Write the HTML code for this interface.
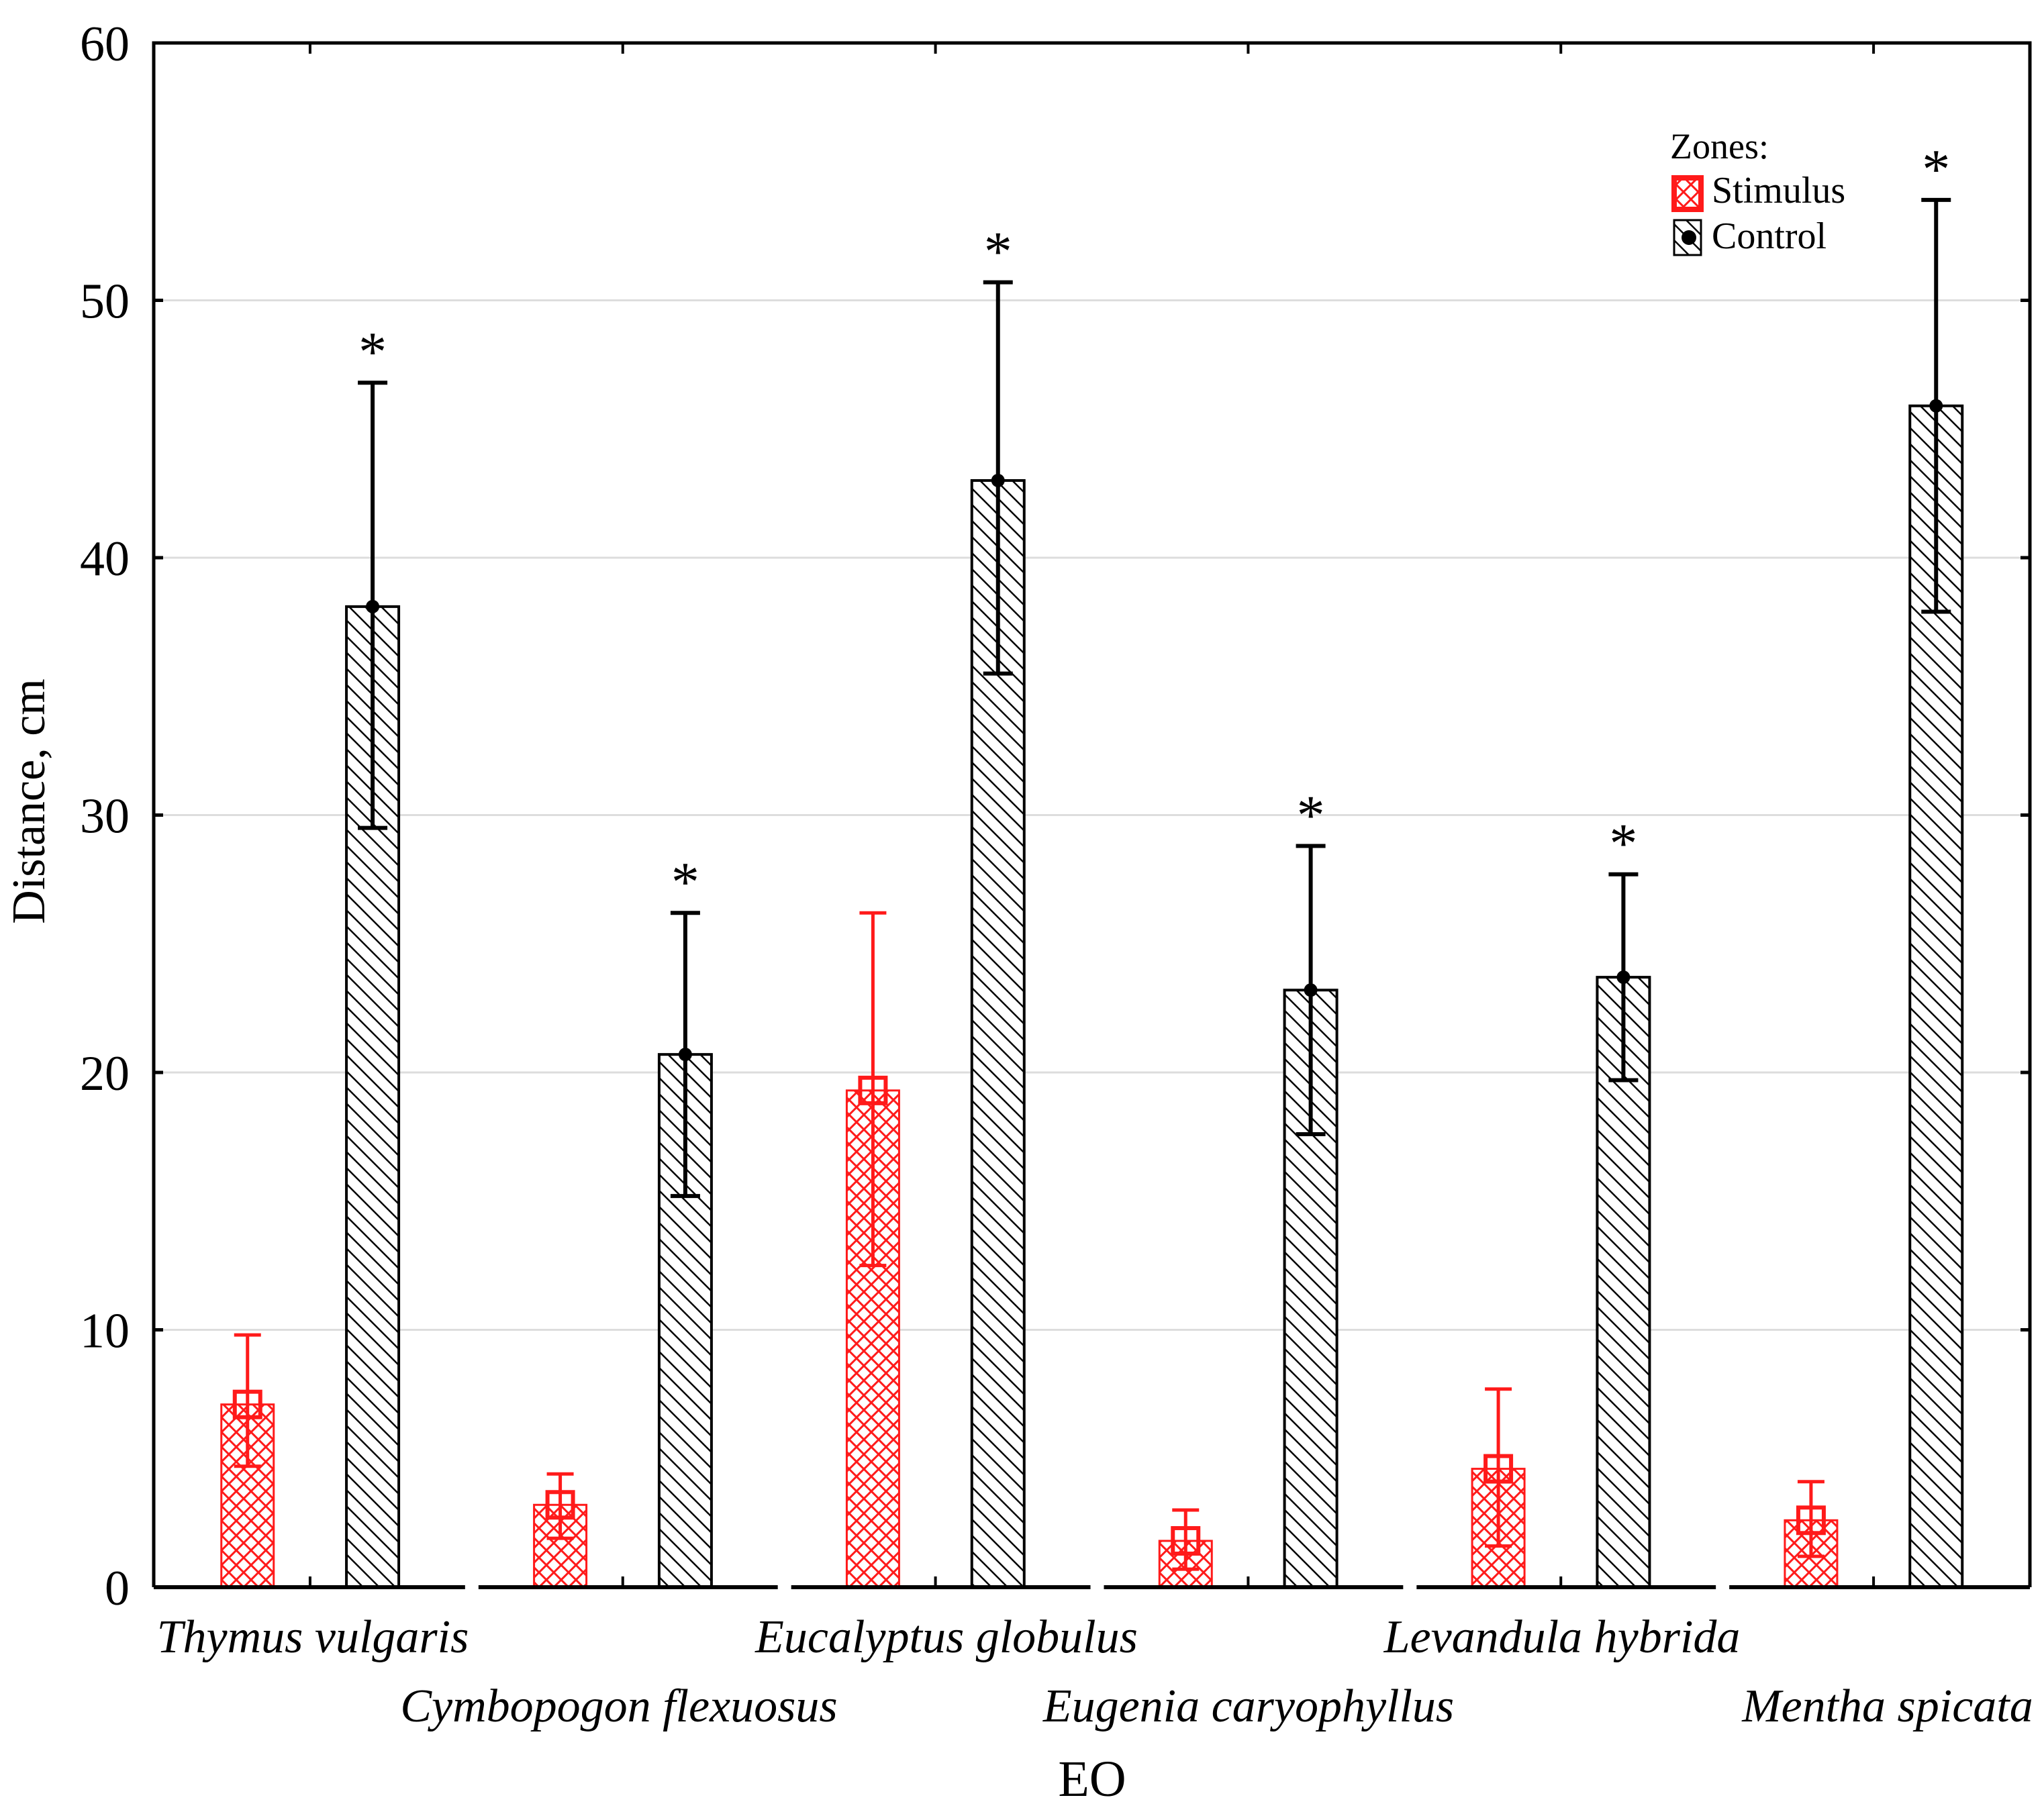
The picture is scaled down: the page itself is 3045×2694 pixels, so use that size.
<!DOCTYPE html>
<html><head><meta charset="utf-8"><style>
html,body{margin:0;padding:0;background:#fff;}
svg{display:block;}
text{font-family:"Liberation Serif",serif;}
</style></head><body>
<svg id="chart" width="3045" height="2694" viewBox="0 0 3045 2694" xmlns="http://www.w3.org/2000/svg">
<defs>
<pattern id="cross" patternUnits="userSpaceOnUse" width="22" height="22">
<rect width="22" height="22" fill="#fff"/>
<path d="M0,0 L22,22 M22,0 L0,22" stroke="#ff1a1a" stroke-width="3"/>
</pattern>
<pattern id="hatch" patternUnits="userSpaceOnUse" width="24" height="24">
<rect width="24" height="24" fill="#fff"/>
<path d="M-6,-6 L30,30 M-6,18 L6,30 M18,-6 L30,6" stroke="#000" stroke-width="2.5"/>
</pattern>
</defs>
<g id="grid"></g>
<g id="bars"></g>
<g id="axes"></g>
<text transform="translate(66,1194) rotate(-90)" font-size="70" text-anchor="middle">Distance,  cm</text>
<text x="1627" y="2676" font-size="76" text-anchor="middle">EO</text>
<g>
<text x="2488" y="236" font-size="54">Zones:</text>
<rect x="2494" y="265" width="40" height="47" fill="url(#cross)" stroke="#ff1a1a" stroke-width="8"/>
<text x="2550" y="302" font-size="56">Stimulus</text>
<rect x="2494" y="328" width="40" height="52" fill="url(#hatch)" stroke="#000" stroke-width="3"/>
<circle cx="2516" cy="354" r="11" fill="#000"/>
<text x="2550" y="370" font-size="56">Control</text>
</g>
</svg>
<script>
const categories=["Thymus vulgaris","Cymbopogon flexuosus","Eucalyptus globulus","Eugenia caryophyllus","Levandula hybrida","Mentha spicata"];
const stimMean=[7.1,3.2,19.3,1.8,4.6,2.6];
const stimLow=[4.7,1.9,12.5,0.7,1.6,1.2];
const stimHigh=[9.8,4.4,26.2,3.0,7.7,4.1];
const ctrlMean=[38.1,20.7,43.0,23.2,23.7,45.9];
const ctrlLow=[29.5,15.2,35.5,17.6,19.7,37.9];
const ctrlHigh=[46.8,26.2,50.7,28.8,27.7,53.9];
const yTicks=[0,10,20,30,40,50,60];

const NS="http://www.w3.org/2000/svg";
const X0=229,X1=3024,Y0=2365,Y60=64;
const y=v=>Y0-(v/60)*(Y0-Y60);
const groupW=(X1-X0)/categories.length;
const gx=i=>X0+groupW*i;
function mk(tag,attrs,parent){const e=document.createElementNS(NS,tag);for(const k in attrs)e.setAttribute(k,attrs[k]);parent.appendChild(e);return e;}
const grid=document.getElementById('grid'),bars=document.getElementById('bars'),axes=document.getElementById('axes'),svg=document.getElementById('chart');

yTicks.forEach(t=>{
  if(t>0&&t<60){const l=mk('line',{x1:X0,x2:X1,y1:y(t),y2:y(t),stroke:'#ddd','stroke-width':3},grid);
  
  }
  const tk=mk('line',{x1:X0,x2:X0+14,y1:y(t),y2:y(t),stroke:'#000','stroke-width':5},axes);
  
  
  const tk2=mk('line',{x1:X1-14,x2:X1,y1:y(t),y2:y(t),stroke:'#000','stroke-width':5},axes);
  
  
  const tx=mk('text',{x:X0-36,y:y(t)+26,'font-size':74,'text-anchor':'end'},axes);
  tx.textContent=t;
  
  
});
const fr=mk('path',{d:`M${X0},${Y0} L${X0},${Y60} L${X1},${Y60} L${X1},${Y0}`,fill:'none',stroke:'#000','stroke-width':5},axes);



const bw=78;
categories.forEach((c,i)=>{
  const sx=gx(i)+0.3*groupW, cx=gx(i)+0.7*groupW;
  const seg=mk('line',{x1:gx(i)+(i?18:0),x2:gx(i+1)-(i<categories.length-1?2:0),y1:Y0,y2:Y0,stroke:'#000','stroke-width':6},axes);
  
  
  const mt=mk('line',{x1:gx(i)+0.5*groupW,x2:gx(i)+0.5*groupW,y1:Y0,y2:Y0-16,stroke:'#000','stroke-width':4},axes);
  
  
  const tt=mk('line',{x1:gx(i)+0.5*groupW,x2:gx(i)+0.5*groupW,y1:Y60,y2:Y60+16,stroke:'#000','stroke-width':4},axes);
  
  
  const sb=mk('rect',{x:sx-bw/2,y:y(stimMean[i]),width:bw,height:Y0-y(stimMean[i]),fill:'url(#cross)',stroke:'#ff1a1a','stroke-width':3},bars);
  
  
  const se=mk('path',{d:`M${sx},${y(stimLow[i])} L${sx},${y(stimHigh[i])} M${sx-20},${y(stimHigh[i])} L${sx+20},${y(stimHigh[i])} M${sx-20},${y(stimLow[i])} L${sx+20},${y(stimLow[i])}`,stroke:'#ff1a1a','stroke-width':5,fill:'none'},bars);
  
  
  const sm=mk('rect',{x:sx-19,y:y(stimMean[i])-19,width:38,height:38,fill:'none',stroke:'#ff1a1a','stroke-width':6},bars);
  
  
  const cb=mk('rect',{x:cx-bw/2,y:y(ctrlMean[i]),width:bw,height:Y0-y(ctrlMean[i]),fill:'url(#hatch)',stroke:'#000','stroke-width':4},bars);
  
  
  const ce=mk('path',{d:`M${cx},${y(ctrlLow[i])} L${cx},${y(ctrlHigh[i])} M${cx-22},${y(ctrlHigh[i])} L${cx+22},${y(ctrlHigh[i])} M${cx-22},${y(ctrlLow[i])} L${cx+22},${y(ctrlLow[i])}`,stroke:'#000','stroke-width':6,fill:'none'},bars);
  
  
  const cm=mk('circle',{cx:cx,cy:y(ctrlMean[i]),r:10,fill:'#000'},bars);
  
  
  const st=mk('text',{x:cx,y:y(ctrlHigh[i])-18,'font-size':84,'text-anchor':'middle'},bars);
  st.textContent='*';
  
  
  const row=i%2;
  const lx=[466,922,1410,1860,2327,2812][i];
  const lb=mk('text',{x:lx,y:row?2565:2462,'font-size':70,'font-style':'italic','text-anchor':'middle'},svg);
  lb.textContent=c;
  
  
});
</script>
</body></html>
